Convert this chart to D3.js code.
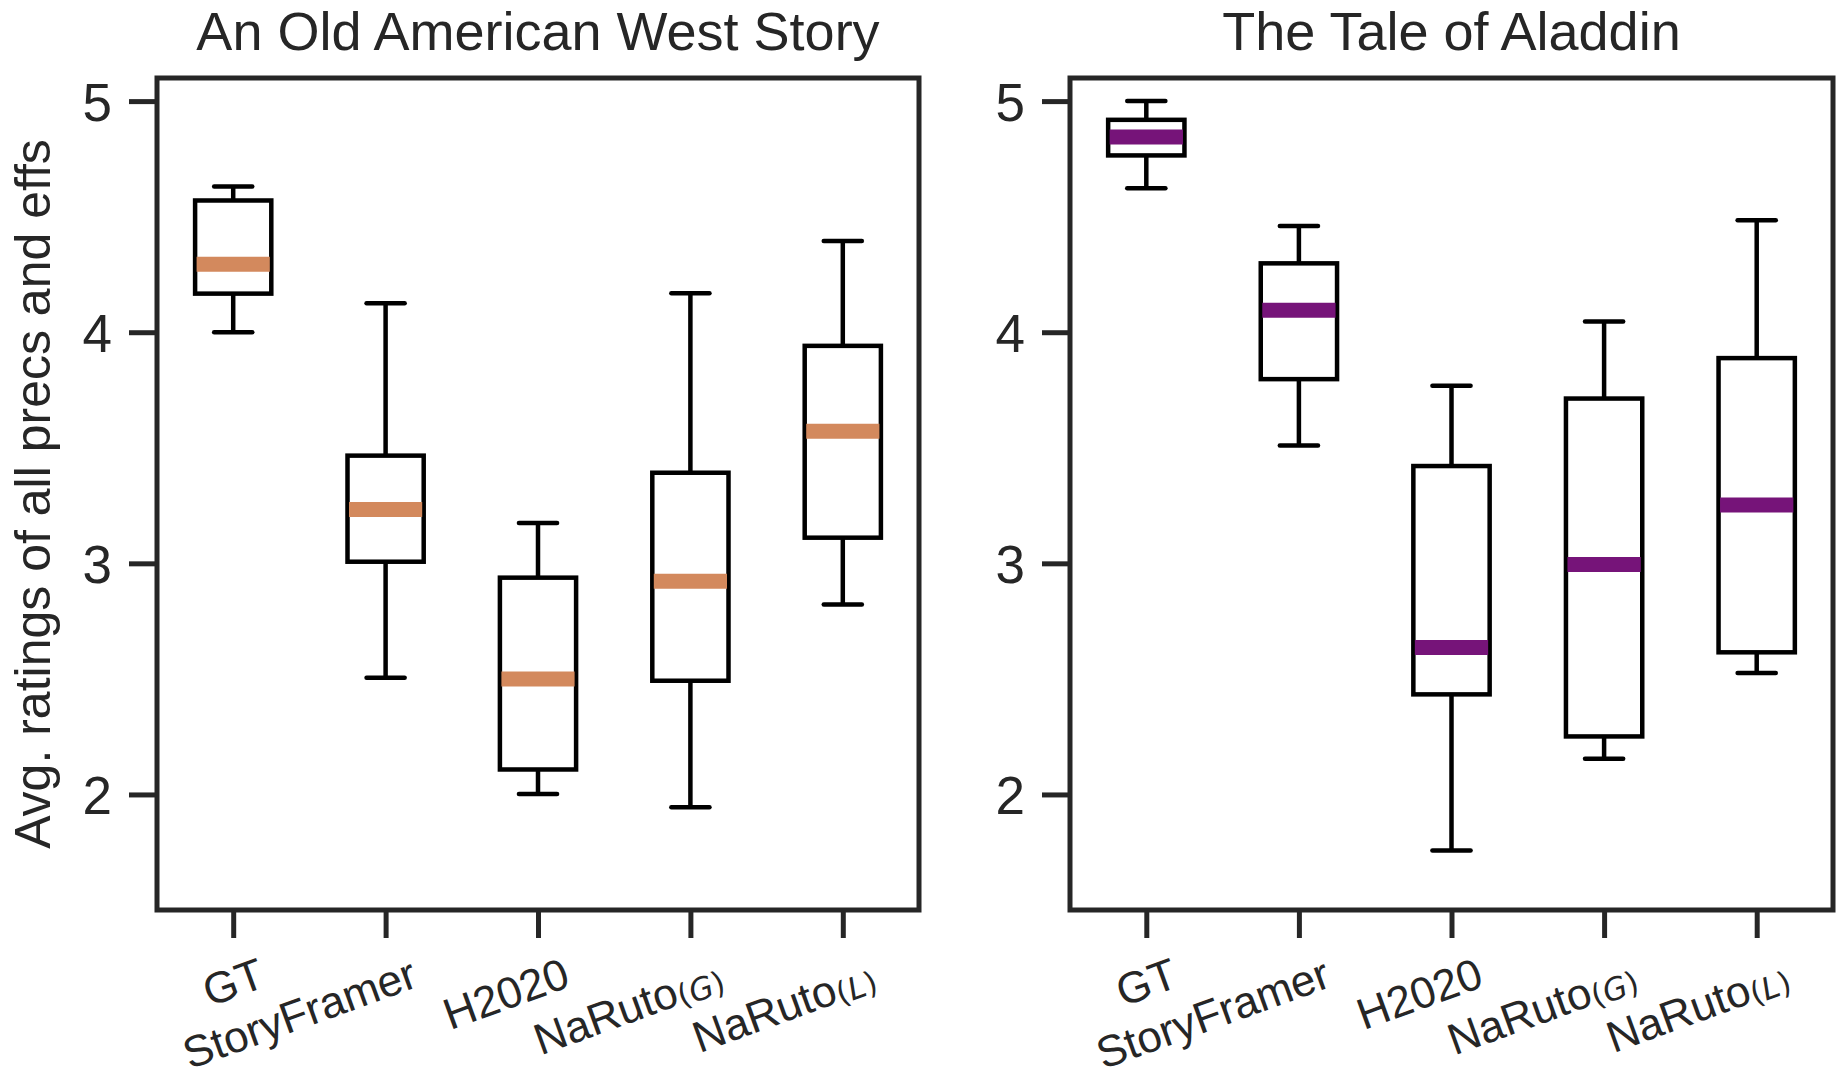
<!DOCTYPE html>
<html>
<head>
<meta charset="utf-8">
<script src="https://cdn.jsdelivr.net/npm/d3@7"></script>
<style>
  html, body { margin: 0; padding: 0; background: #fff; }
  svg { display: block; }
  text { fill: #262626; font-family: "Liberation Sans", Arial, sans-serif; }
</style>
</head>
<body>
<svg id="chart" width="1844" height="1080"></svg>
<script>
// ---- data ----
const methods = ["GT", "StoryFramer", "H2020", "NaRuto(G)", "NaRuto(L)"];
const yTicks = [2, 3, 4, 5];

// An Old American West Story
const westLow    = [4.00, 2.505, 2.002, 1.945, 2.822];
const westQ1     = [4.167, 3.007, 2.108, 2.492, 3.111];
const westMedian = [4.294, 3.233, 2.500, 2.923, 3.571];
const westQ3     = [4.570, 3.466, 2.938, 3.392, 3.941];
const westHigh   = [4.631, 4.125, 3.174, 4.169, 4.395];

// The Tale of Aladdin
const aladdinLow    = [4.623, 3.510, 1.757, 2.154, 2.526];
const aladdinQ1     = [4.765, 3.797, 2.433, 2.251, 2.615];
const aladdinMedian = [4.845, 4.095, 2.636, 2.995, 3.252];
const aladdinQ3     = [4.919, 4.298, 3.421, 3.713, 3.888];
const aladdinHigh   = [5.000, 4.460, 3.768, 4.046, 4.484];

const svg = d3.select("#chart");
const plotTop = 78, plotBottom = 910;

const y = d3.scaleLinear().domain([1.5, 5.1]).range([plotBottom, plotTop]);

function buildStats(low, q1, med, q3, high) {
  return methods.map((m, i) => ({ method: m, low: low[i], q1: q1[i], med: med[i], q3: q3[i], high: high[i] }));
}

// ---- one panel ----
function drawPanel(left, right, title, stats, medianColor) {
  const x = d3.scalePoint().domain(methods).range([left, right]).padding(0.5);
  const boxW = x.step() * 0.5;
  const capW = boxW * 0.5;
  const g = svg.append("g");

  // y axis ticks + labels
  const yAxis = g.append("g").attr("transform", `translate(${left},0)`)
    .call(d3.axisLeft(y).tickValues(yTicks).tickSize(28).tickPadding(17).tickFormat(d3.format("d")));
  yAxis.select(".domain").remove();
  yAxis.selectAll("line").attr("stroke", "#262626").attr("stroke-width", 5);
  yAxis.selectAll("text").attr("font-size", 53).attr("dy", "0.36em")
    .style("font-family", '"Liberation Sans", Arial, sans-serif').attr("fill", "#262626");

  // x axis ticks (labels drawn by hand because of rotation + subscripts)
  const xAxis = g.append("g").attr("transform", `translate(0,${plotBottom})`)
    .call(d3.axisBottom(x).tickSize(28).tickFormat(""));
  xAxis.select(".domain").remove();
  xAxis.selectAll("line").attr("stroke", "#262626").attr("stroke-width", 5);

  methods.forEach(m => {
    const sub = m.match(/^(.*)\((\w)\)$/);
    const dx = sub ? 36 : 34;
    const t = g.append("text")
      .attr("text-anchor", "end")
      .attr("font-size", 44)
      .attr("transform", `translate(${x(m) + dx},${sub ? 988 : 986}) rotate(-20)`);
    if (sub) {
      t.append("tspan").text(sub[1]);
      const s = t.append("tspan").attr("font-size", 31).attr("dy", 3)
        .style("font-family", '"DejaVu Sans", sans-serif');
      s.append("tspan").text("(");
      s.append("tspan").attr("font-style", "italic").text(sub[2]);
      s.append("tspan").text(")");
    } else {
      t.text(m);
    }
  });

  // boxes
  const boxes = g.selectAll(".box").data(stats).enter().append("g").attr("class", "box");

  boxes.append("line")
    .attr("x1", d => x(d.method)).attr("x2", d => x(d.method))
    .attr("y1", d => y(d.high)).attr("y2", d => y(d.q3))
    .attr("stroke", "#000").attr("stroke-width", 4.5);
  boxes.append("line")
    .attr("x1", d => x(d.method)).attr("x2", d => x(d.method))
    .attr("y1", d => y(d.q1)).attr("y2", d => y(d.low))
    .attr("stroke", "#000").attr("stroke-width", 4.5);

  // caps
  ["high", "low"].forEach(k => {
    boxes.append("line")
      .attr("x1", d => x(d.method) - capW / 2).attr("x2", d => x(d.method) + capW / 2)
      .attr("y1", d => y(d[k])).attr("y2", d => y(d[k]))
      .attr("stroke", "#000").attr("stroke-width", 4.5).attr("stroke-linecap", "round");
  });

  boxes.append("rect")
    .attr("x", d => x(d.method) - boxW / 2)
    .attr("y", d => y(d.q3))
    .attr("width", boxW)
    .attr("height", d => y(d.q1) - y(d.q3))
    .attr("fill", "#fff").attr("stroke", "#000").attr("stroke-width", 4.5);

  boxes.append("line")
    .attr("x1", d => x(d.method) - boxW / 2 + 1.5).attr("x2", d => x(d.method) + boxW / 2 - 1.5)
    .attr("y1", d => y(d.med)).attr("y2", d => y(d.med))
    .attr("stroke", medianColor).attr("stroke-width", 15);

  // frame
  g.append("rect")
    .attr("x", left).attr("y", plotTop)
    .attr("width", right - left).attr("height", plotBottom - plotTop)
    .attr("fill", "none").attr("stroke", "#262626").attr("stroke-width", 5);

  // title
  g.append("text")
    .attr("x", (left + right) / 2).attr("y", 50)
    .attr("text-anchor", "middle").attr("font-size", 54)
    .text(title);
}

drawPanel(157, 919, "An Old American West Story",
  buildStats(westLow, westQ1, westMedian, westQ3, westHigh), "#d3895d");
drawPanel(1070, 1833, "The Tale of Aladdin",
  buildStats(aladdinLow, aladdinQ1, aladdinMedian, aladdinQ3, aladdinHigh), "#761479");

// y label
svg.append("text")
  .attr("transform", `translate(50,${(plotTop + plotBottom) / 2}) rotate(-90)`)
  .attr("text-anchor", "middle").attr("font-size", 50)
  .text("Avg. ratings of all precs and effs");
</script>
</body>
</html>
